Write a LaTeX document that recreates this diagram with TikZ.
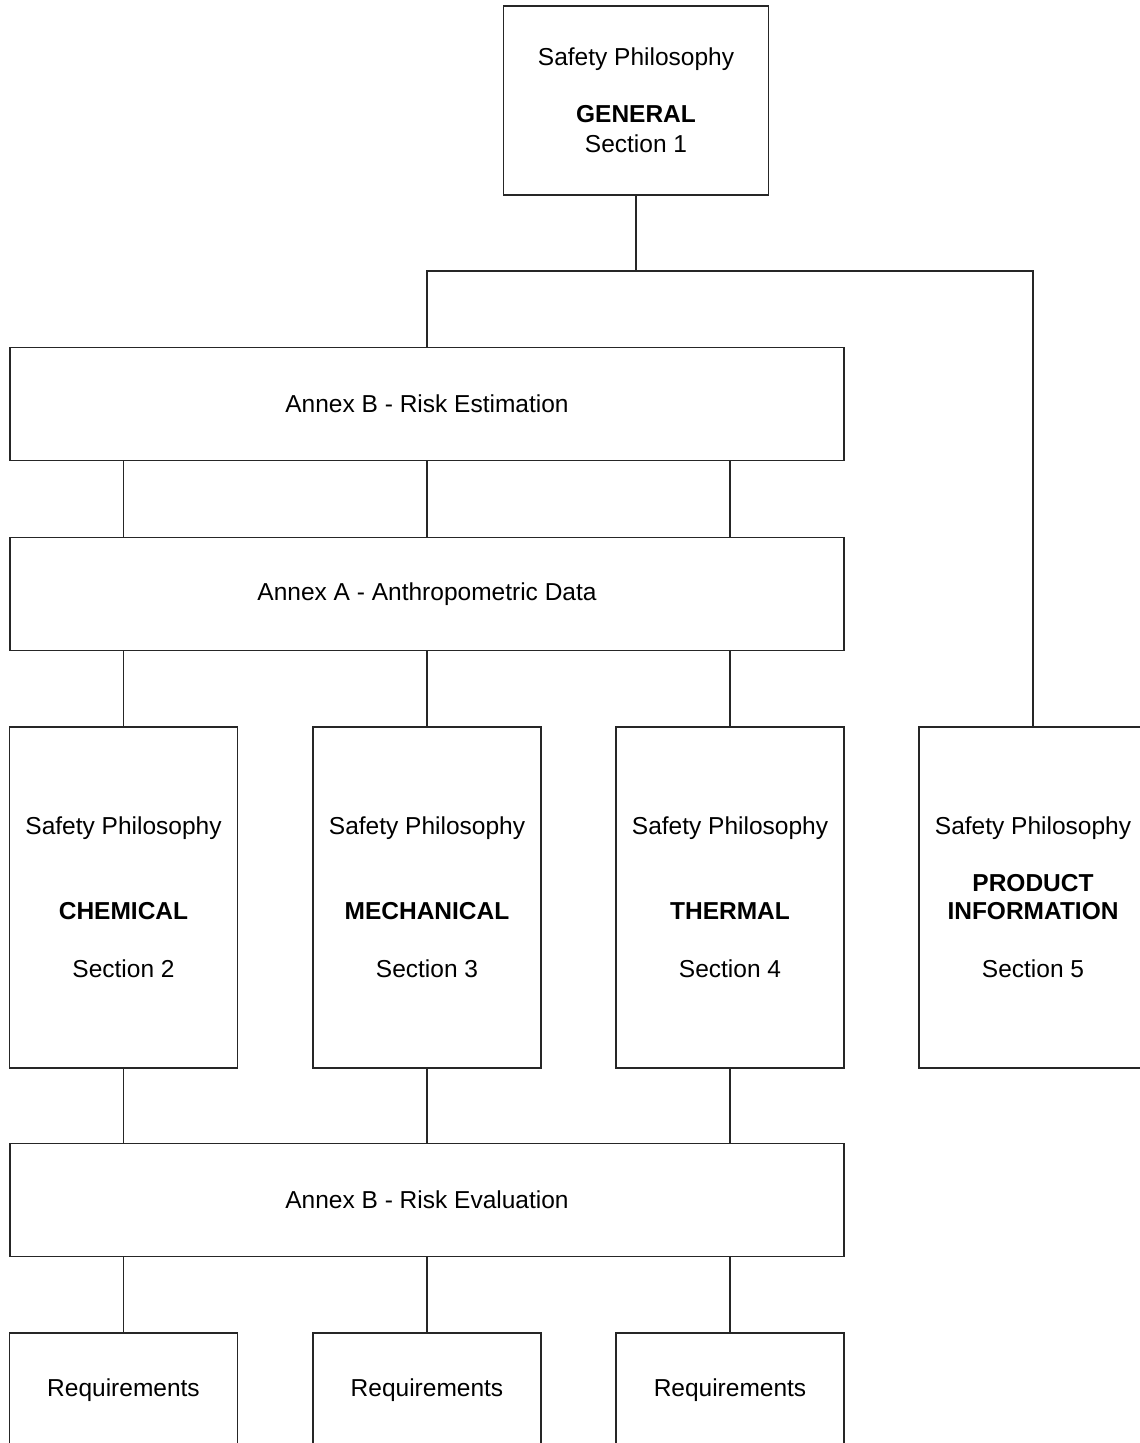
\documentclass[tikz,border=0pt]{standalone}
\usepackage{fontspec}
\setmainfont{Liberation Sans}
\begin{document}
\begin{tikzpicture}[x=1pt,y=-1pt,
  box/.style={draw=black!85,line width=1.4pt,inner sep=0pt,align=center,font=\fontsize{24.5}{28}\selectfont},
  wide/.style={box,minimum width=834pt,minimum height=113pt},
  tall/.style={box,minimum width=228pt,minimum height=341pt},
  conn/.style={draw=black!85,line width=1.4pt}]
\useasboundingbox (0,0) rectangle (1140,1443);
\clip (0,0) rectangle (1140,1443);
\fill[white] (0,0) rectangle (1140,1443);
% top
\node[box,minimum width=265pt,minimum height=189pt] (gen) at (636,100.5)
  {Safety Philosophy\\[29pt]\textbf{GENERAL}\\[2pt]Section 1};
\coordinate (j1) at (636,271);
% annex boxes
\node[wide] (esti) at (427,404) {Annex B - Risk Estimation};
\node[wide] (anth) at (427,594) {Annex A - Anthropometric Data};
% section boxes
\node[tall] (chem) at (123.5,897.5) {Safety Philosophy\\[57pt]\textbf{CHEMICAL}\\[30pt]Section 2};
\node[tall] (mech) at (427,897.5) {Safety Philosophy\\[57pt]\textbf{MECHANICAL}\\[30pt]Section 3};
\node[tall] (ther) at (730,897.5) {Safety Philosophy\\[57pt]\textbf{THERMAL}\\[30pt]Section 4};
\node[tall] (prod) at (1033,897.5) {Safety Philosophy\\[29pt]\textbf{PRODUCT}\\[0pt]\textbf{INFORMATION}\\[30pt]Section 5};
\node[wide] (eval) at (427,1200) {Annex B - Risk Evaluation};
% requirements
\node[box,minimum width=228pt,minimum height=114pt] (r1) at (123.5,1390) {Requirements};
\node[box,minimum width=228pt,minimum height=114pt] (r2) at (427,1390) {Requirements};
\node[box,minimum width=228pt,minimum height=114pt] (r3) at (730,1390) {Requirements};
% connectors
\draw[conn] (gen.south) -- (j1);
\draw[conn] (esti.north) |- (j1) -| (prod.north);
\foreach \c in {chem,mech,ther}{
  \draw[conn] (\c.north |- esti.south) -- (\c.north |- anth.north);
  \draw[conn] (\c.north |- anth.south) -- (\c.north);
  \draw[conn] (\c.south) -- (\c.south |- eval.north);
}
\draw[conn] (r1.north |- eval.south) -- (r1.north);
\draw[conn] (r2.north |- eval.south) -- (r2.north);
\draw[conn] (r3.north |- eval.south) -- (r3.north);
\end{tikzpicture}
\end{document}
